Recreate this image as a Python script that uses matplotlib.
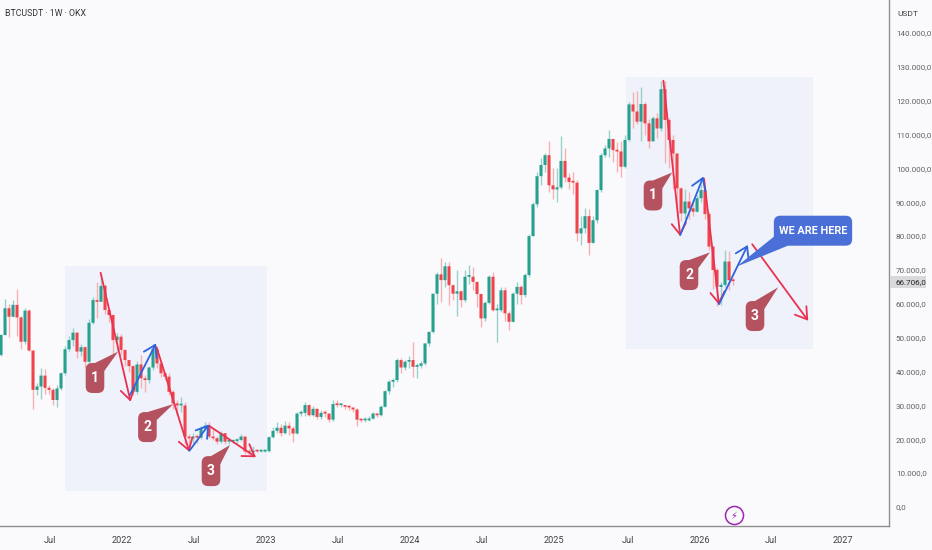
import matplotlib
matplotlib.use("Agg")
import matplotlib.pyplot as plt
from matplotlib.patches import FancyArrowPatch, FancyBboxPatch, Polygon, Rectangle

plt.rcParams['font.family'] = ['Roboto', 'DejaVu Sans']

first_open = 44.9
# bar values in thousands of USDT
closes = [50.8, 58.7, 56.2, 59.7, 56.0, 48.8, 58.0, 46.2, 34.6, 35.6,
          38.8, 35.2, 34.6, 31.6, 35.0, 39.5, 46.6, 49.3, 51.5, 45.9,
          47.2, 42.9, 54.4, 61.1, 60.6, 65.3, 58.2, 56.7, 49.3, 50.3,
          46.4, 43.4, 41.6, 34.0, 42.1, 38.0, 37.5, 41.2, 46.6, 42.4,
          39.5, 38.5, 34.0, 30.6, 30.0, 30.0, 20.8, 20.3, 20.8, 20.5,
          23.2, 24.0, 20.8, 20.3, 19.3, 21.8, 19.3, 19.3, 19.5, 19.8,
          20.8, 16.4, 16.1, 16.6, 16.4, 16.4, 16.5, 20.6, 22.5, 23.4,
          21.8, 24.0, 23.2, 21.7, 27.6, 27.8, 30.1, 27.1, 29.0, 26.6,
          27.8, 27.6, 25.8, 30.4, 30.1, 30.1, 29.6, 29.4, 28.8, 25.8,
          25.6, 25.6, 26.1, 27.6, 27.1, 29.6, 34.2, 37.0, 37.5, 43.4,
          41.2, 42.9, 43.4, 41.4, 41.7, 42.4, 48.3, 51.7, 63.0, 68.7,
          67.0, 71.1, 65.5, 63.0, 63.7, 61.1, 68.0, 68.0, 66.5, 62.9,
          55.7, 60.3, 68.0, 58.1, 58.1, 64.0, 57.2, 54.7, 63.0, 65.0,
          62.6, 68.5, 80.0, 89.4, 97.7, 101.0, 103.9, 95.0, 93.8, 94.4,
          102.2, 97.3, 96.0, 95.8, 80.8, 82.3, 85.9, 78.0, 84.7, 93.6,
          103.9, 105.9, 108.7, 105.4, 105.0, 100.5, 108.4, 118.9, 116.8, 113.8,
          119.0, 113.3, 108.0, 114.8, 111.8, 123.4, 114.3, 108.4, 104.4, 94.1,
          86.7, 90.2, 88.2, 87.2, 91.2, 93.6, 86.5, 76.9, 70.0, 65.0,
          65.6, 72.5, 67.0, 66.706]
highs = [51, 61.3, 60, 61.2, 64.5, 56.5, 58.8, 58.5, 46.5, 36.5,
         41, 40.9, 36, 35, 36, 40, 47.5, 50.5, 53, 51.8,
         48, 47.5, 55.5, 62, 66.5, 68.5, 66, 58.5, 57, 51.5,
         51, 46, 42.5, 42, 43, 45, 39, 41.5, 48, 47,
         43, 40, 39.5, 34.5, 31.5, 32.5, 31, 21.5, 22, 21.5,
         24, 25, 25, 23, 21, 22.5, 22, 20, 20, 20.5,
         21.5, 21, 17, 18, 17.2, 17, 17, 21, 23.5, 25,
         24.5, 25.5, 25, 24, 28, 28.5, 31, 30.3, 29.8, 29,
         28.5, 28.5, 27, 31.5, 31.5, 30.5, 30.2, 30, 29.2, 29.3,
         26, 26.5, 27, 28, 27.8, 30, 34.5, 37.5, 38, 44,
         44, 43.5, 44.5, 48.6, 42.5, 43, 48.5, 52, 63, 69.5,
         73.4, 72.3, 72.4, 66, 70, 64, 70, 71.5, 71, 66,
         63, 60.8, 68.5, 69.5, 60, 65, 65, 58, 63.5, 66.5,
         65.5, 69, 80.5, 90, 99, 103, 104.5, 108, 100, 100,
         109.5, 105.9, 98.5, 98.9, 96.5, 86, 88.2, 88, 86, 94,
         104.5, 107, 111.3, 108.5, 107.9, 108, 110, 119.5, 122.7, 123,
         124.1, 119.5, 114.5, 115.5, 116.5, 125.9, 125.9, 115, 110, 104.5,
         94.5, 94, 93, 90.5, 92, 95.5, 94, 87, 77, 70.5,
         66.5, 76, 75.7, 67.5]
lows = [44.5, 50.8, 50.3, 56, 50.5, 46.8, 48, 46, 29, 33,
        32, 33.5, 33.5, 30, 29.5, 34.5, 39, 46, 47.5, 44,
        44.5, 41, 42, 54, 55.7, 62.5, 57, 54.5, 44, 46,
        45, 41.5, 40, 33, 33.5, 35, 34, 36.5, 40.5, 41,
        38.5, 37.5, 33, 29, 27.6, 28, 18.5, 18, 19, 19,
        20, 23, 20.3, 19.8, 18.5, 19, 18.5, 18.7, 19, 19,
        19.5, 15.8, 15.7, 16, 16.1, 16.1, 16.2, 16.3, 20.5, 22,
        21, 21.5, 21.2, 19.2, 21.5, 27, 27, 27, 27, 26,
        26, 26.5, 25, 25.5, 29.5, 29.5, 28.8, 28.5, 28, 24,
        25, 25, 25.5, 26, 26.5, 27, 29.5, 33.5, 35.5, 37,
        39.5, 40.5, 41, 38.5, 38, 41, 42, 47.5, 51.5, 60,
        60.5, 65, 59.6, 61, 56.5, 59, 60.5, 66, 64, 59,
        53.2, 55, 60, 58, 48.8, 57.5, 55, 52.2, 54.5, 60,
        60, 62, 67.8, 80, 88.5, 95, 99, 93, 91, 90,
        94, 96, 94, 92.5, 78.5, 77.5, 81, 74.4, 78, 84,
        93, 103.5, 103.5, 102, 99, 97.4, 100, 108, 112, 113,
        108, 110, 106, 108, 109, 111, 101.5, 100, 94, 86,
        84.5, 85, 85, 86, 87, 90, 85, 76, 64.5, 59.5,
        59.7, 65, 64, 65.5]

y_ticks = [0, 10, 20, 30, 40, 50, 60, 70, 80, 90, 100, 110, 120, 130, 140]
y_labels = ['0,0', '10.000,0', '20.000,0', '30.000,0', '40.000,0', '50.000,0', '60.000,0', '70.000,0',
            '80.000,0', '90.000,0', '100.000,0', '110.000,0', '120.000,0', '130.000,0', '140.000,0']
x_ticks = [12.25, 30.25, 48.25, 66.25, 84.25, 102.25, 120.25, 138.25, 156.75, 174.75, 192.5, 210.5]
x_labels = ['Jul', '2022', 'Jul', '2023', 'Jul', '2024', 'Jul', '2025', 'Jul', '2026', 'Jul', '2027']

# shaded zones: bar from, bar to, price low, price high
zones = [(16, 66.5, 4.7, 71.2), (156.25, 203, 46.7, 127)]
# drawn arrows: start bar, start price, end bar, end price
red_arrows = [(24.9, 69.2, 32.4, 31.1), (38.9, 47.2, 47.1, 16.3), (52, 24, 63.75, 14.7),
              (165.6, 125.9, 169.8, 80), (175.75, 97, 179.5, 59.7), (187.8, 77.6, 201.8, 55)]
blue_arrows = [(32.25, 33.1, 38.75, 48.3), (47.1, 16.6, 52, 24.4),
               (169.8, 80.3, 175.6, 97.6), (179.5, 59.9, 186.7, 77.4)]
# number callouts: text, centre bar, centre price, tip bar, tip price
callouts = [('1', 23.5, 38.1, 29.3, 45.9), ('2', 36.6, 23.6, 43.1, 30.4), ('3', 52.5, 10.6, 57.25, 18.3),
            ('1', 163, 92, 167.8, 98.8), ('2', 172, 68.5, 177.25, 75.2), ('3', 188.5, 56.4, 194.3, 64.9)]

up = '#26a08f'
down = '#f0444c'
up_wick = '#97d1c9'
down_wick = '#f6b0b2'
bg = '#fafafd'
W, H = 932, 550
axis_w, axis_h = 889, 526
px_x = 1 / 4.0
px_y = 1 / 3.386

fig = plt.figure(figsize=(W / 100, H / 100), dpi=100, facecolor=bg)
ax = fig.add_axes([0, 1 - axis_h / H, axis_w / W, axis_h / H], facecolor=bg)
ax.set_xlim(-0.25, 222)
ax.set_ylim(-(axis_h - 507) * px_y, 507 * px_y)

for z in zones:
    ax.add_patch(Rectangle((z[0], z[2]), z[1] - z[0], z[3] - z[2], color='#eff2fb', lw=0, zorder=1))

opens = [first_open] + closes[:-1]
for i in range(len(closes)):
    is_up = closes[i] >= opens[i]
    ax.vlines(i, lows[i], highs[i], color=up_wick if is_up else down_wick, lw=1, zorder=2)
    height = max(abs(closes[i] - opens[i]), 0.5)
    ax.bar(i, height, bottom=min(opens[i], closes[i]), width=0.76, color=up if is_up else down, lw=0, zorder=3, snap=False)


def draw_arrow(a, col):
    ax.add_patch(FancyArrowPatch((a[0], a[1]), (a[2], a[3]), arrowstyle='->,head_length=5,head_width=3.2',
                                 mutation_scale=1.6, color=col, lw=1.3, shrinkA=0, shrinkB=0, zorder=5))


for a in red_arrows:
    draw_arrow(a, '#e8324f')
for a in blue_arrows:
    draw_arrow(a, '#2f62dc')

box_w = 18.6 * px_x
box_h = 30 * px_y
radius = 6.5 * px_x
for label, cx, cy, tx, ty in callouts:
    left, right = cx - box_w / 2, cx + box_w / 2
    top = cy + box_h / 2
    ax.add_patch(FancyBboxPatch((left + radius, cy - box_h / 2 + radius * 1.18), box_w - 2 * radius, box_h - 2 * radius * 1.18,
                                boxstyle='round,pad=%f,rounding_size=%f' % (radius, radius), mutation_aspect=1.18,
                                fc='#b5525f', ec='none', zorder=6))
    ax.add_patch(Polygon([(cx, top), (tx, ty), (right, top - 8 * px_y)], fc='#b5525f', ec='none', zorder=6))
    ax.text(cx, cy, label, color='white', fontsize=10, fontweight='bold', ha='center', va='center', zorder=7)

# blue note
note_x, note_y = 203, 81.6
note_w = 78.3 * px_x
ax.add_patch(FancyBboxPatch((note_x - note_w / 2 + radius, note_y - box_h / 2 + radius * 1.18), note_w - 2 * radius,
                            box_h - 2 * radius * 1.18, boxstyle='round,pad=%f,rounding_size=%f' % (radius, radius),
                            mutation_aspect=1.18, fc='#4a6fd6', ec='none', zorder=6))
ax.add_patch(Polygon([(note_x - note_w / 2, note_y - 6 * px_y), (183.9, 71), (note_x - note_w / 2 + 14 * px_x, note_y - box_h / 2)],
                     fc='#4a6fd6', ec='none', zorder=6))
ax.text(note_x, note_y, 'WE ARE HERE', color='white', fontsize=7.8, fontweight='bold', ha='center', va='center', zorder=7)

# flash icon on the time line
ax.plot([183.2], [-2.45], marker='o', ms=13, mfc='none', mec='#9c27b0', mew=1.1, zorder=6)
ax.text(183.2, -2.45, '\u26a1', color='#9c27b0', fontsize=7, ha='center', va='center', family='DejaVu Sans', zorder=7)

ax.yaxis.tick_right()
ax.set_yticks(y_ticks)
ax.set_yticklabels(y_labels)
ax.set_xticks(x_ticks)
ax.set_xticklabels(x_labels)
ax.tick_params(axis='y', length=0, pad=5, labelsize=5.8, labelcolor='#606060')
ax.tick_params(axis='x', length=0, pad=7, labelsize=6.6, labelcolor='#404040')
for side in ['top', 'left']:
    ax.spines[side].set_visible(False)
for side in ['right', 'bottom']:
    ax.spines[side].set_color('#8f8f8f')
    ax.spines[side].set_linewidth(1)

fig.text(5 / W, 1 - 14 / H, 'BTCUSDT \u00b7 1W \u00b7 OKX', fontsize=6.3, color='#333333', va='center')
fig.text(897 / W, 1 - 14 / H, 'USDT', fontsize=6, color='#404040', va='center')
fig.add_artist(Rectangle((890 / W, 1 - 288 / H), 36 / W, 12 / H, transform=fig.transFigure, fc='#d9d9dc', ec='none'))
fig.text(895 / W, 1 - 282 / H, '66.706,0', fontsize=5.8, color='#222222', va='center')

fig.savefig('out.png', dpi=100, facecolor=bg)
